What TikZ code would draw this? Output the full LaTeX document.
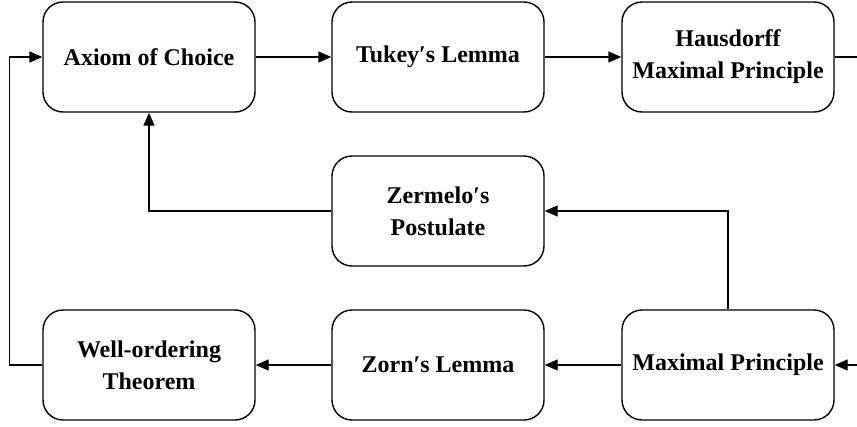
\documentclass[tikz,border=0pt]{standalone}
\usepackage{fontspec}
\setmainfont{Liberation Serif}
\usepackage{tikz}
\usetikzlibrary{arrows.meta}

\begin{document}
\begin{tikzpicture}[x=1pt, y=1pt, line width=1.4pt, >={Triangle[length=13pt, width=11pt]}]
            \useasboundingbox (0,0) rectangle (857,-426);

            \tikzstyle{myBox}=[draw, rounded corners=20pt, minimum width=212pt, minimum height=110pt,
                               align=center, font=\fontsize{24}{32}\selectfont\bfseries];
            \node[myBox] (aoc) at (149,-57) {Axiom of Choice};
            \node[myBox] (tukey) at (438,-57) {Tukey′s Lemma};
            \node[myBox] (haus) at (728,-57) {Hausdorff\\Maximal Principle};
            \node[myBox] (zerm) at (438,-211) {Zermelo′s\\Postulate};
            \node[myBox] (wo) at (149,-365) {Well-ordering\\Theorem};
            \node[myBox] (zorn) at (438,-365) {Zorn′s Lemma};
            \node[myBox] (maxp) at (728,-365) {Maximal Principle};

            \draw[->] (aoc) -- (tukey);
            \draw[->] (tukey) -- (haus);
            \draw[->] (haus.east) -- ++(35,0) |- (maxp.east);
            \draw[->] (maxp) -- (zorn);
            \draw[->] (zorn) -- (wo);
            \draw[->] (wo.west) -- ++(-33,0) |- (aoc.west);
            \draw[->] (maxp.north) |- (zerm.east);
            \draw[->] (zerm.west) -| (aoc.south);
         \end{tikzpicture}
\end{document}
